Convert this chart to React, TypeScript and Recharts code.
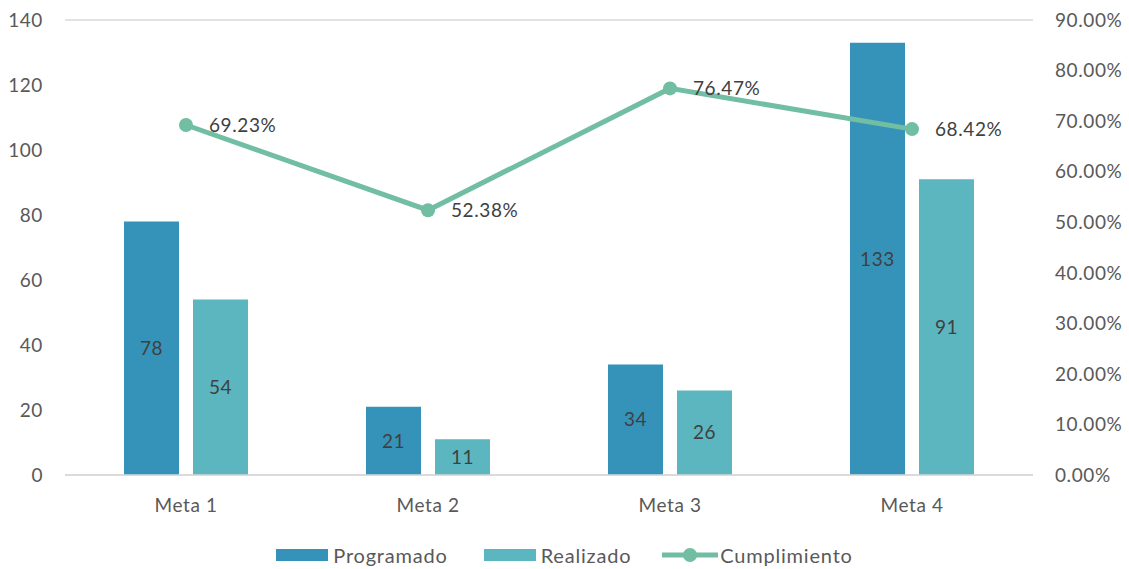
import React from 'react';
import { ComposedChart, Bar, Line, XAxis, YAxis, CartesianGrid, Legend, LabelList } from 'recharts';

const categories = ['Meta 1', 'Meta 2', 'Meta 3', 'Meta 4'];
const programado = [78, 21, 34, 133];
const realizado = [54, 11, 26, 91];
const cumplimiento = [0.6923, 0.5238, 0.7647, 0.6842];
const leftTicks = [0, 20, 40, 60, 80, 100, 120, 140];
const rightTicks = [0, 0.1, 0.2, 0.3, 0.4, 0.5, 0.6, 0.7, 0.8, 0.9];

const data = categories.map((c, i) => ({
  name: c,
  Programado: programado[i],
  Realizado: realizado[i],
  Cumplimiento: cumplimiento[i],
}));

const C_PROG = '#3593BA';
const C_REAL = '#5BB6BF';
const C_LINE = '#71BEA3';
const FONT = 'Lato, "Open Sans", sans-serif';
const LS = 0.6;
const pct = (v: number) => (v * 100).toFixed(2) + '%';

const LineLabel = (props: any) => {
  const { x, y, value } = props;
  return (
    <text x={x + 23} y={y + 2} fill="#404040" fontSize={19} fontFamily={FONT} letterSpacing={LS} dominantBaseline="middle" textAnchor="start">
      {pct(value)}
    </text>
  );
};

const LegendContent = () => (
  <div style={{ display: 'flex', justifyContent: 'center', alignItems: 'center', fontFamily: FONT, fontSize: 20, letterSpacing: 0.8, color: '#595959', paddingTop: 8 }}>
    <div style={{ display: 'flex', alignItems: 'center', marginRight: 36 }}>
      <div style={{ width: 52, height: 12, background: C_PROG, marginRight: 5 }} />
      <span>Programado</span>
    </div>
    <div style={{ display: 'flex', alignItems: 'center', marginRight: 31 }}>
      <div style={{ width: 52, height: 12, background: C_REAL, marginRight: 5 }} />
      <span>Realizado</span>
    </div>
    <div style={{ display: 'flex', alignItems: 'center' }}>
      <svg width={56} height={16} style={{ marginRight: 2 }}>
        <line x1={0} y1={8} x2={56} y2={8} stroke={C_LINE} strokeWidth={5} />
        <circle cx={28} cy={8} r={7} fill={C_LINE} />
      </svg>
      <span>Cumplimiento</span>
    </div>
  </div>
);

const tickStyle = { fill: '#595959', fontSize: 19, fontFamily: FONT, letterSpacing: LS };

export default function App() {
  return (
    <div style={{ position: 'absolute', left: 0, top: 0, width: 1129, height: 569, background: '#fff' }}>
      <ComposedChart width={1129} height={569} data={data} margin={{ top: 20, right: 0, bottom: 0, left: 0 }} barGap={14}>
        <CartesianGrid vertical={false} stroke="#D9D9D9" strokeWidth={1.5} />
        <XAxis
          dataKey="name"
          axisLine={{ stroke: '#D9D9D9', strokeWidth: 1.5 }}
          tickLine={false}
          tickMargin={18}
          height={60}
          tick={tickStyle}
        />
        <YAxis
          yAxisId="left"
          domain={[0, 140]}
          ticks={leftTicks}
          width={65}
          axisLine={false}
          tickLine={false}
          tickMargin={16}
          tick={tickStyle}
        />
        <YAxis
          yAxisId="right"
          orientation="right"
          domain={[0, 0.9]}
          ticks={rightTicks}
          width={96}
          axisLine={false}
          tickLine={false}
          tickMargin={16}
          tickFormatter={pct}
          tick={{ ...tickStyle, textAnchor: 'start' }}
        />
        <Legend verticalAlign="bottom" height={34} content={<LegendContent />} />
        <Bar yAxisId="left" dataKey="Programado" fill={C_PROG} barSize={55} isAnimationActive={false}>
          <LabelList dataKey="Programado" position="center" fill="#404040" fontSize={19} fontFamily={FONT} letterSpacing={LS} />
        </Bar>
        <Bar yAxisId="left" dataKey="Realizado" fill={C_REAL} barSize={55} isAnimationActive={false}>
          <LabelList dataKey="Realizado" position="center" fill="#404040" fontSize={19} fontFamily={FONT} letterSpacing={LS} />
        </Bar>
        <Line
          yAxisId="right"
          dataKey="Cumplimiento"
          stroke={C_LINE}
          strokeWidth={5}
          dot={{ r: 7, fill: C_LINE, stroke: C_LINE, strokeWidth: 0 }}
          isAnimationActive={false}
        >
          <LabelList dataKey="Cumplimiento" content={<LineLabel />} />
        </Line>
      </ComposedChart>
    </div>
  );
}
